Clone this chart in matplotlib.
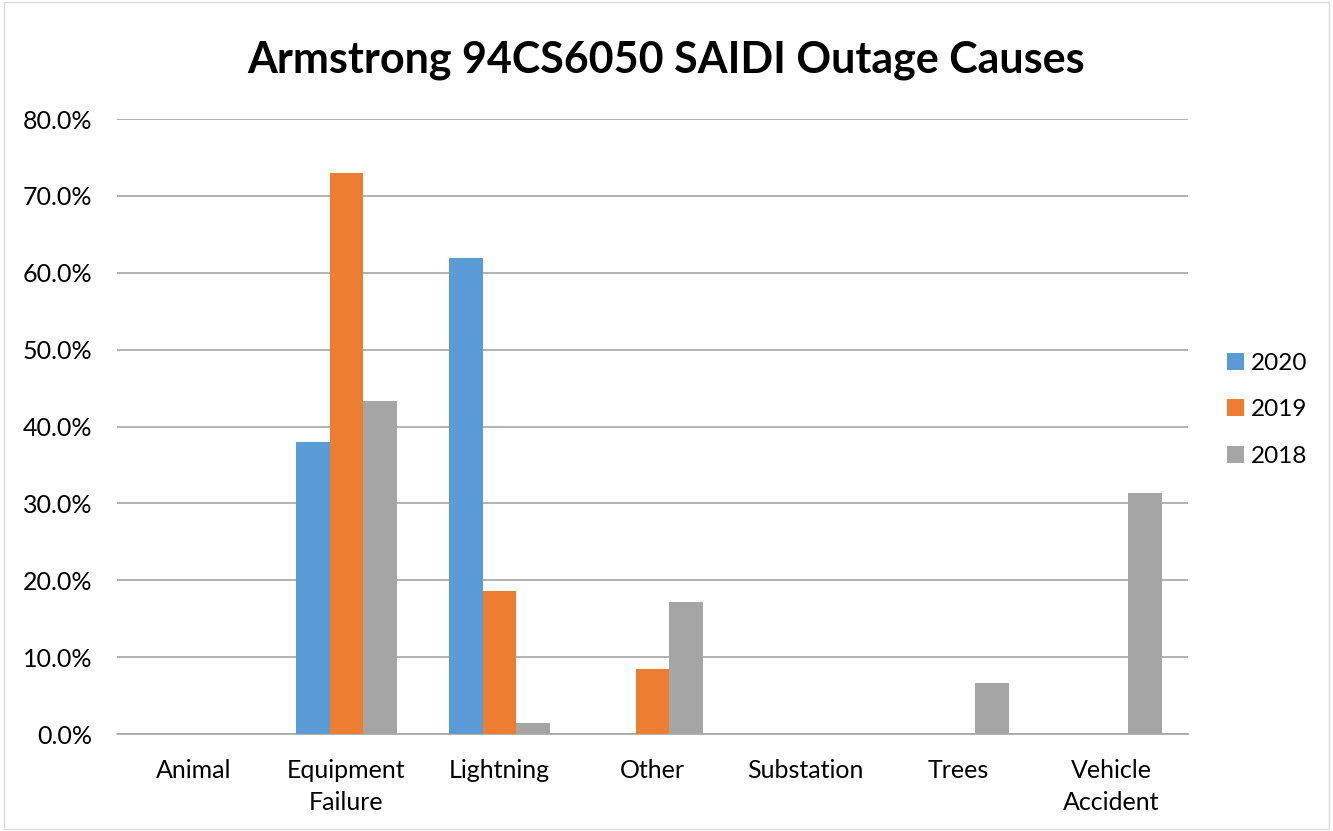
import matplotlib
matplotlib.use("Agg")
import matplotlib.pyplot as plt
import numpy as np
from matplotlib.ticker import FuncFormatter
from matplotlib.patches import Rectangle

categories = ["Animal", "Equipment\nFailure", "Lightning", "Other", "Substation", "Trees", "Vehicle\nAccident"]
years = ["2020", "2019", "2018"]
vals_2020 = [0.0, 38.0, 61.9, 0.0, 0.0, 0.0, 0.0]
vals_2019 = [0.0, 73.0, 18.6, 8.4, 0.0, 0.0, 0.0]
vals_2018 = [0.0, 43.3, 1.4, 17.2, 0.0, 6.6, 31.3]
colors = ["#5B9BD5", "#ED7D31", "#A5A5A5"]

plt.rcParams["font.family"] = ["Lato", "DejaVu Sans"]

fig = plt.figure(figsize=(13.33, 8.31), dpi=100)
ax = fig.add_axes([117 / 1333, 1 - 734 / 831, (1188 - 117) / 1333, (734 - 119) / 831])

x = np.arange(len(categories))
w = 0.22
for i, (vals, c, lab) in enumerate(zip([vals_2020, vals_2019, vals_2018], colors, years)):
    ax.bar(x + (i - 1) * w, vals, w, color=c, label=lab, zorder=3)

ax.set_xlim(-0.5, len(categories) - 0.5)
ax.set_ylim(0, 80)
ax.set_yticks(np.arange(0, 81, 10))
ax.yaxis.set_major_formatter(FuncFormatter(lambda v, _: f"{v:.1f}%"))
ax.grid(axis="y", color="#A6A6A6", lw=1.2, zorder=0)
ax.set_xticks(x)
ax.set_xticklabels(categories, fontsize=18, linespacing=1.45)
ax.tick_params(axis="y", labelsize=18, length=0, pad=18)
ax.tick_params(axis="x", length=0, pad=18)
for s in ["top", "right", "left"]:
    ax.spines[s].set_visible(False)
ax.spines["bottom"].set_color("#A6A6A6")
ax.spines["bottom"].set_linewidth(1.2)

fig.text(0.5, 1 - 60 / 831, "Armstrong 94CS6050 SAIDI Outage Causes",
         ha="center", va="center", fontsize=31, fontweight="bold")

ax.legend(loc="center left", bbox_to_anchor=(1.016, 0.527), frameon=False,
          fontsize=17.5, handlelength=0.7, handleheight=0.7, handletextpad=0.3,
          labelspacing=1.05)

fig.patches.append(Rectangle((0.003, 0.003), 0.994, 0.994, transform=fig.transFigure,
                             fill=False, ec="#D9D9D9", lw=1))

fig.savefig("out.png", dpi=100)
